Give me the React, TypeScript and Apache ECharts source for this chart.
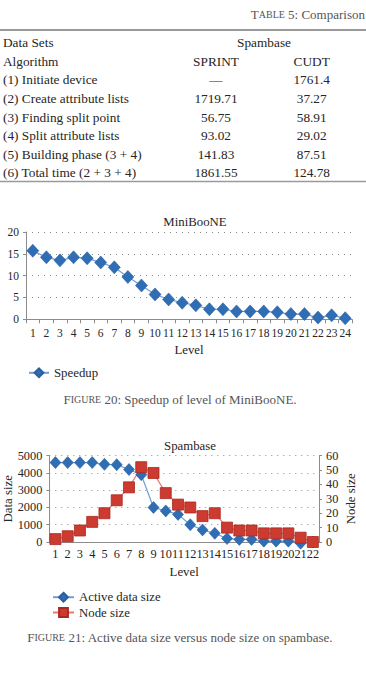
import React, { useEffect, useRef } from "react";
import * as echarts from "echarts";

// Table 5 content
const tableTitleCaps = "ABLE";
const dataSetName = "Spambase";
const rowLabels = [
  "Algorithm",
  "(1) Initiate device",
  "(2) Create attribute lists",
  "(3) Finding split point",
  "(4) Split attribute lists",
  "(5) Building phase (3 + 4)",
  "(6) Total time (2 + 3 + 4)",
];
const sprintCol = ["SPRINT", "—", "1719.71", "56.75", "93.02", "141.83", "1861.55"];
const cudtCol = ["CUDT", "1761.4", "37.27", "58.91", "29.02", "87.51", "124.78"];

// Figure 20: speedup per level on MiniBooNE
const levels20 = ["1", "2", "3", "4", "5", "6", "7", "8", "9", "10", "11", "12", "13", "14", "15", "16", "17", "18", "19", "20", "21", "22", "23", "24"];
const speedup = [15.7, 14.2, 13.5, 14.2, 14.0, 13.0, 11.9, 9.7, 7.75, 5.7, 4.55, 3.8, 3.2, 2.3, 2.3, 1.8, 1.8, 1.8, 1.6, 1.2, 1.2, 0.4, 0.9, 0.25];

// Figure 21: active data size vs node size on spambase
const levels21 = ["1", "2", "3", "4", "5", "6", "7", "8", "9", "10", "11", "12", "13", "14", "15", "16", "17", "18", "19", "20", "21", "22"];
const activeDataSize = [4600, 4600, 4600, 4600, 4500, 4480, 4200, 3900, 2000, 1800, 1600, 1000, 700, 500, 200, 150, 150, 50, 50, 50, -70, 0];
const nodeSize = [2, 4, 8, 14, 20, 29, 38, 52, 48, 34, 26, 24, 18, 20, 10, 8, 8, 6, 6, 6, 3, 0];

const leftTicks = { min: 0, max: 5000, interval: 1000 };
const rightTicks = { min: 0, max: 60, interval: 10 };
const speedTicks = { min: 0, max: 20, interval: 5 };

const SERIF = '"Liberation Serif", "DejaVu Serif", serif';
const TEXT = "#262626";
const GREY = "#555";
const AXIS = "#8c8c8c";
const BLUE = "#2f6db5";
const BLUE_LINE = "#6f9fd6";
const RED = "#cc3a30";
const RED_LINE = "#e47a74";

function smallCapsCaption(x: number, y: number, rest: string) {
  return {
    type: "text",
    x,
    y,
    style: {
      text: "{big|F}{sc|IGURE}{big|" + rest + "}",
      align: "center",
      verticalAlign: "middle",
      rich: {
        big: { fontFamily: SERIF, fontSize: 13, fill: GREY },
        sc: { fontFamily: SERIF, fontSize: 10, fill: GREY },
      },
    },
  };
}

function verticalName(text: string, x: number, y: number) {
  return {
    type: "text",
    x,
    y,
    rotation: Math.PI / 2,
    style: { text, fontFamily: SERIF, fontSize: 12.8, fill: TEXT, align: "center", verticalAlign: "middle" },
  };
}

function buildTable() {
  const els: any[] = [];
  const rowY = (i: number) => 61.3 + i * 18.6;
  const txt = (text: string, x: number, y: number, align: string) => ({
    type: "text",
    x,
    y,
    style: { text, fontFamily: SERIF, fontSize: 13.3, fill: TEXT, align, verticalAlign: "middle" },
  });
  els.push({
    type: "text",
    x: 365,
    y: 14,
    style: {
      text: "{big|T}{sc|" + tableTitleCaps + "}{big| 5: Comparison}",
      align: "right",
      verticalAlign: "middle",
      rich: {
        big: { fontFamily: SERIF, fontSize: 13, fill: GREY },
        sc: { fontFamily: SERIF, fontSize: 10, fill: GREY },
      },
    },
  });
  els.push({ type: "line", shape: { x1: 0, y1: 30, x2: 366, y2: 30 }, style: { stroke: "#9a9a9a", lineWidth: 2 } });
  els.push({ type: "line", shape: { x1: 0, y1: 181.5, x2: 366, y2: 181.5 }, style: { stroke: "#9a9a9a", lineWidth: 1.5 } });
  els.push(txt("Data Sets", 3, 42.7, "left"));
  els.push(txt(dataSetName, 264, 42.7, "center"));
  rowLabels.forEach((label, i) => {
    els.push(txt(label, 3, rowY(i), "left"));
    els.push(txt(sprintCol[i], 216, rowY(i), "center"));
    els.push(txt(cudtCol[i], 311.7, rowY(i), "center"));
  });
  return els;
}

export default function App() {
  const ref = useRef<HTMLDivElement>(null);

  useEffect(() => {
    document.body.style.margin = "0";
    if (!ref.current) return;
    const chart = echarts.init(ref.current, null, { renderer: "svg" });

    const plain = (v: number) => String(v);
    const axisLabel1 = { fontFamily: SERIF, fontSize: 11.5, color: TEXT };
    const axisLabel2 = { fontFamily: SERIF, fontSize: 12.3, color: TEXT };
    const nameStyle = { fontFamily: SERIF, fontSize: 12.8, color: TEXT };
    const dotted = { show: true, lineStyle: { color: "#8a8a8a", type: [1, 5] as any, width: 1 } };
    const legendText = { fontFamily: SERIF, fontSize: 12.8, color: TEXT, lineHeight: 12 };

    chart.setOption({
      animation: false,
      textStyle: { fontFamily: SERIF },
      grid: [
        { left: 26, right: 14, top: 232, bottom: 674 - 319.3, outerBoundsMode: "none" },
        { left: 49.3, right: 47, top: 455.7, bottom: 674 - 542, outerBoundsMode: "none" },
      ],
      legend: [
        {
          data: ["Speedup"],
          left: 28,
          top: 366.3,
          padding: 0,
          itemWidth: 20,
          itemHeight: 11,
          itemGap: 10,
          textStyle: legendText,
        },
        {
          data: ["Active data size", "Node size"],
          orient: "vertical",
          left: 52,
          top: 590.7,
          padding: 0,
          itemWidth: 21,
          itemHeight: 11,
          itemGap: 2.3,
          textStyle: legendText,
        },
      ],
      xAxis: [
        {
          type: "category",
          gridIndex: 0,
          data: levels20,
          boundaryGap: true,
          name: "Level",
          nameLocation: "middle",
          nameGap: 24,
          nameTextStyle: nameStyle,
          axisLine: { lineStyle: { color: AXIS } },
          axisTick: { show: true, length: 4, lineStyle: { color: AXIS } },
          axisLabel: { ...axisLabel1, interval: 0, margin: 8 },
        },
        {
          type: "category",
          gridIndex: 1,
          data: levels21,
          boundaryGap: true,
          name: "Level",
          nameLocation: "middle",
          nameGap: 23,
          nameTextStyle: nameStyle,
          axisLine: { lineStyle: { color: AXIS } },
          axisTick: { show: false },
          axisLabel: { ...axisLabel2, interval: 0, margin: 6, hideOverlap: false },
        },
      ],
      yAxis: [
        {
          type: "value",
          gridIndex: 0,
          ...speedTicks,
          axisLine: { show: true, lineStyle: { color: AXIS } },
          axisTick: { show: true, length: 3, lineStyle: { color: AXIS } },
          axisLabel: { ...axisLabel1, margin: 7, formatter: plain },
          splitLine: dotted,
        },
        {
          type: "value",
          gridIndex: 1,
          ...leftTicks,
          axisLine: { show: true, lineStyle: { color: AXIS } },
          axisTick: { show: true, length: 3, lineStyle: { color: AXIS } },
          axisLabel: { ...axisLabel2, margin: 7, formatter: plain },
          splitLine: dotted,
        },
        {
          type: "value",
          gridIndex: 1,
          position: "right",
          ...rightTicks,
          axisLine: { show: true, lineStyle: { color: AXIS } },
          axisTick: { show: true, length: 3, lineStyle: { color: AXIS } },
          axisLabel: { ...axisLabel2, margin: 7, formatter: plain },
          splitLine: { show: false },
        },
      ],
      series: [
        {
          name: "Speedup",
          type: "line",
          xAxisIndex: 0,
          yAxisIndex: 0,
          data: speedup,
          symbol: "diamond",
          symbolSize: [12, 13],
          lineStyle: { color: BLUE_LINE, width: 1.2 },
          itemStyle: { color: BLUE, borderColor: "#2a5f9e", borderWidth: 0.6 },
        },
        {
          name: "Active data size",
          type: "line",
          xAxisIndex: 1,
          yAxisIndex: 1,
          data: activeDataSize,
          clip: false,
          symbol: "diamond",
          symbolSize: [11, 12],
          lineStyle: { color: BLUE_LINE, width: 1.2 },
          itemStyle: { color: BLUE, borderColor: "#2a5f9e", borderWidth: 0.6 },
        },
        {
          name: "Node size",
          type: "line",
          xAxisIndex: 1,
          yAxisIndex: 2,
          data: nodeSize,
          symbol: "rect",
          symbolSize: 11,
          lineStyle: { color: RED_LINE, width: 1.2 },
          itemStyle: { color: RED, borderColor: "#a8291f", borderWidth: 0.8 },
        },
      ],
      graphic: [
        ...buildTable(),
        {
          type: "text",
          x: 195,
          y: 221.7,
          style: { text: "MiniBooNE", fontFamily: SERIF, fontSize: 12.8, fill: TEXT, align: "center", verticalAlign: "middle" },
        },
        {
          type: "text",
          x: 190,
          y: 446,
          style: { text: "Spambase", fontFamily: SERIF, fontSize: 12.8, fill: TEXT, align: "center", verticalAlign: "middle" },
        },
        verticalName("Data size", 8, 498.8),
        verticalName("Node size", 351, 498.8),
        smallCapsCaption(180, 399.3, " 20: Speedup of level of MiniBooNE."),
        smallCapsCaption(180, 637.3, " 21: Active data size versus node size on spambase."),
      ],
    });

    return () => chart.dispose();
  }, []);

  return <div ref={ref} style={{ width: 366, height: 674 }} />;
}
